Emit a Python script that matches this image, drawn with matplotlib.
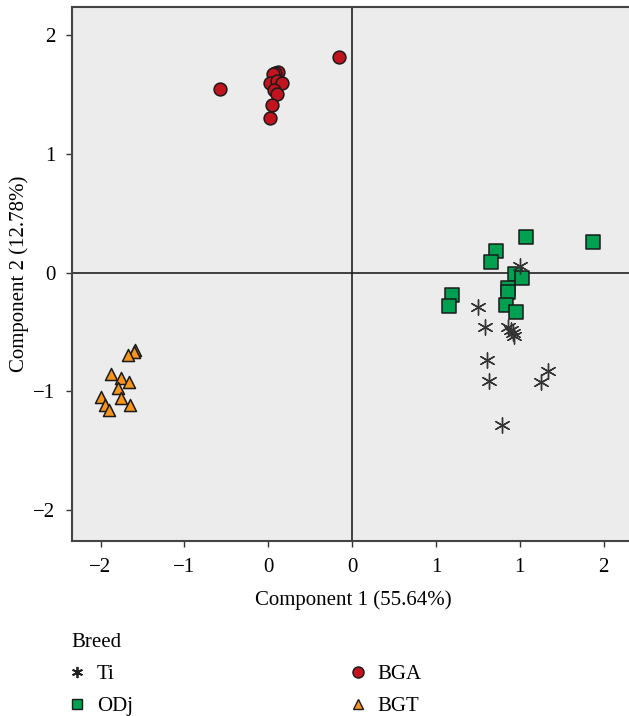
import matplotlib.pyplot as plt
from matplotlib.lines import Line2D

# PCA scores
ti_x = [1.004, 0.752, 0.793, 0.930, 0.946, 0.957, 0.964, 0.805, 1.167, 1.127, 0.817, 0.893]
ti_y = [0.055, -0.288, -0.461, -0.456, -0.484, -0.507, -0.535, -0.737, -0.827, -0.920, -0.911, -1.284]

odj_x = [1.040, 1.436, 0.857, 0.826, 0.974, 1.012, 0.930, 0.930, 0.597, 0.577, 0.921, 0.980]
odj_y = [0.301, 0.254, 0.184, 0.086, -0.015, -0.046, -0.131, -0.164, -0.187, -0.285, -0.274, -0.335]

bga_x = [-0.790, -0.076, -0.442, -0.458, -0.474, -0.488, -0.448, -0.415, -0.464, -0.445, -0.476, -0.488]
bga_y = [1.543, 1.817, 1.686, 1.677, 1.672, 1.596, 1.615, 1.593, 1.537, 1.503, 1.411, 1.304]

bgt_x = [-1.292, -1.302, -1.338, -1.436, -1.379, -1.332, -1.395, -1.377, -1.496, -1.323, -1.474, -1.452]
bgt_y = [-0.653, -0.672, -0.697, -0.855, -0.891, -0.925, -0.975, -1.054, -1.046, -1.113, -1.118, -1.158]

x_ticks = [-1.5, -1.0, -0.5, 0.0, 0.5, 1.0, 1.5]
x_tick_labels = ['\u22122', '\u22121', '0', '0', '1', '1', '2']
y_ticks = [-2, -1, 0, 1, 2]
y_tick_labels = ['\u22122', '\u22121', '0', '1', '2']

font_size = 15
plt.rc('font', family='Liberation Serif', size=font_size)

fig = plt.figure(figsize=(6.29, 7.16), dpi=100)
ax = fig.add_axes([72 / 629, 1 - 541 / 716, 1 - 72 / 629 + 0.01, (541 - 7) / 716])
ax.set_facecolor('#ececec')

red = '#c1141f'
green = '#00a050'
orange = '#f7941d'
edge = '#1a1a1a'

ax.axhline(0, color='#222222', lw=1.2, zorder=1)
ax.axvline(0, color='#222222', lw=1.2, zorder=1)

ax.scatter(bga_x, bga_y, s=85, marker='o', c=red, edgecolors=edge, linewidths=1.1, zorder=3)
ax.scatter(odj_x, odj_y, s=105, marker='s', c=green, edgecolors=edge, linewidths=1.1, zorder=3)
ax.scatter(bgt_x, bgt_y, s=75, marker='^', c=orange, edgecolors=edge, linewidths=1.1, zorder=3)
ax.scatter(ti_x, ti_y, s=120, marker=(6, 2, 0), c='#333333', linewidths=1.0, zorder=4)

ax.set_xlim(-1.670, 1.689)
ax.set_ylim(-2.261, 2.236)
ax.set_xticks(x_ticks)
ax.set_xticklabels(x_tick_labels)
ax.set_yticks(y_ticks)
ax.set_yticklabels(y_tick_labels)
ax.tick_params(direction='out', length=4, width=1, color='#333333', labelsize=font_size, pad=8)

for side in ['left', 'bottom', 'top']:
    ax.spines[side].set_color('#444444')
    ax.spines[side].set_linewidth(1.5)
ax.spines['right'].set_visible(False)

ax.set_xlabel('Component 1 (55.64%)', fontsize=font_size, labelpad=10)
ax.set_ylabel('Component 2 (12.78%)', fontsize=font_size, labelpad=3)

handles = [
    Line2D([], [], ls='', marker=(6, 2, 0), color='#222222', markersize=8, markeredgewidth=1.3),
    Line2D([], [], ls='', marker='s', markerfacecolor=green, markeredgecolor=edge, markersize=7.5),
    Line2D([], [], ls='', marker='o', markerfacecolor=red, markeredgecolor=edge, markersize=8),
    Line2D([], [], ls='', marker='^', markerfacecolor=orange, markeredgecolor=edge, markersize=6.5),
]
labels = ['Ti', 'ODj', 'BGA', 'BGT']
leg = fig.legend(handles, labels, title='Breed', ncol=2, frameon=False,
                 loc='upper left', bbox_to_anchor=(53 / 629, 1 - 614 / 716),
                 alignment='left', fontsize=font_size, title_fontsize=font_size,
                 handlelength=0.48, handletextpad=0.72, columnspacing=10.55,
                 labelspacing=0.6)

fig.savefig('out.png', dpi=100)
